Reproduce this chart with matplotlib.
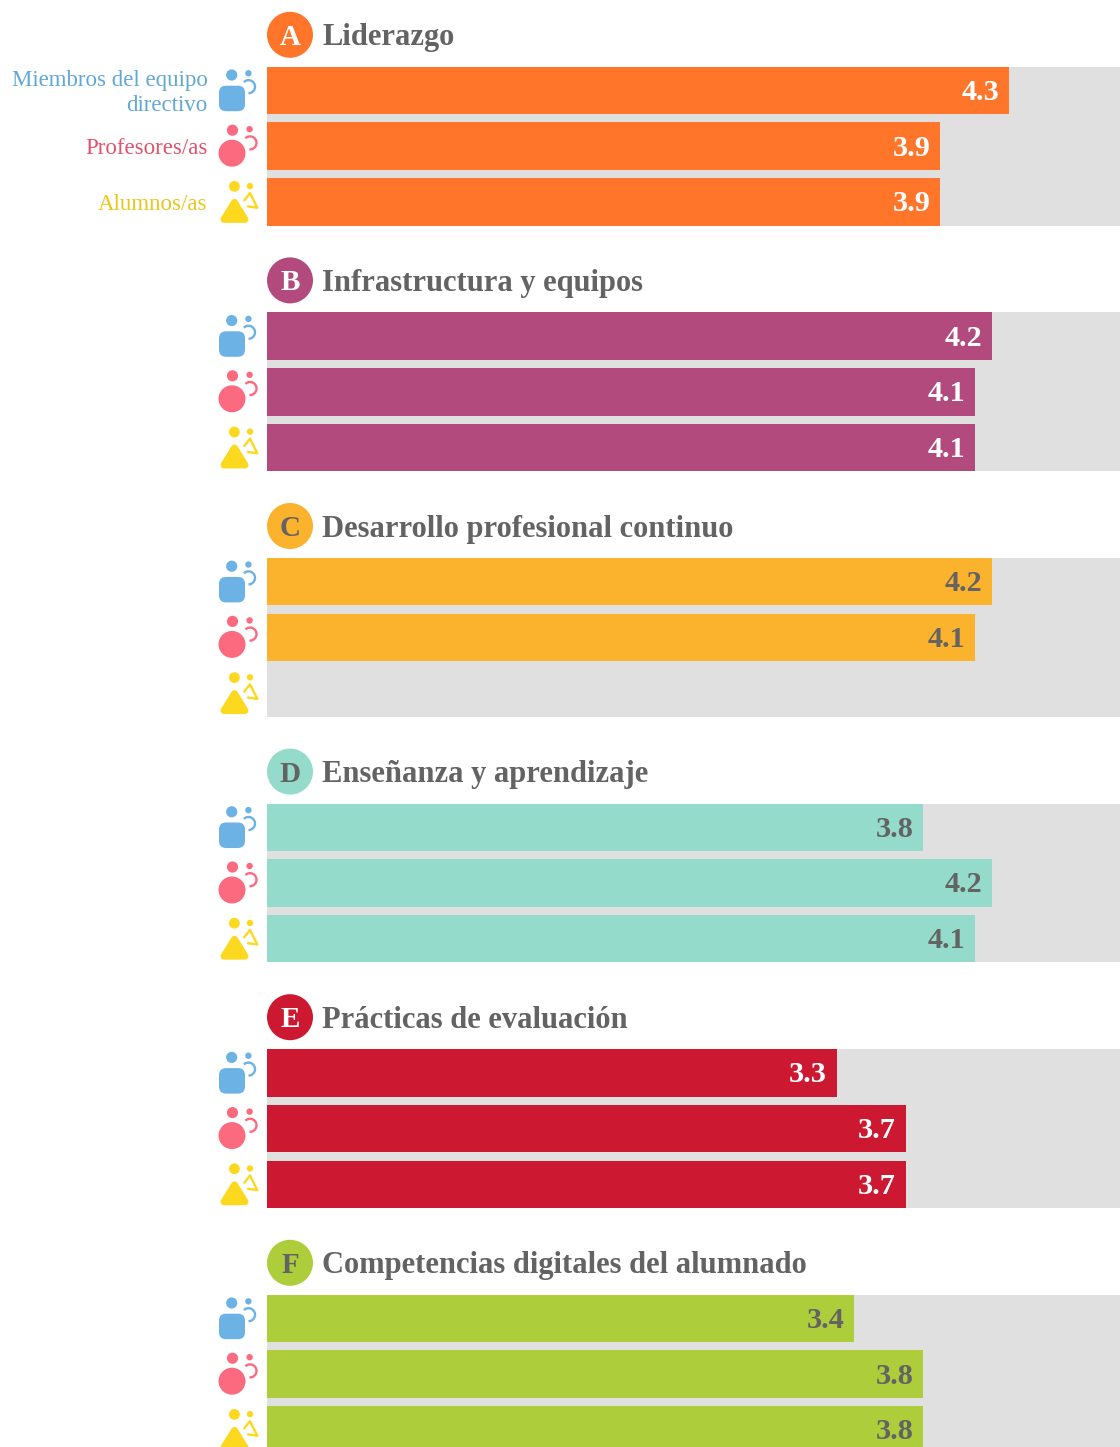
import numpy as np
import matplotlib
matplotlib.use("Agg")
import matplotlib.pyplot as plt
from matplotlib.patches import Circle, FancyBboxPatch, Polygon, Arc

plt.rcParams['font.family'] = ['Liberation Serif', 'DejaVu Serif']

letters = ['A', 'B', 'C', 'D', 'E', 'F']
titles = ['Liderazgo', 'Infrastructura y equipos', 'Desarrollo profesional continuo',
          'Enseñanza y aprendizaje', 'Prácticas de evaluación', 'Competencias digitales del alumnado']
managers = [4.3, 4.2, 4.2, 3.8, 3.3, 3.4]
teachers = [3.9, 4.1, 4.1, 4.2, 3.7, 3.8]
students = [3.9, 4.1, np.nan, 4.1, 3.7, 3.8]
colors = ['#FF752A', '#B24A7E', '#FBB32D', '#95DBCB', '#CC1831', '#AECD3A']
value_colors = ['white', 'white', '#636363', '#636363', 'white', '#636363']
respondents = ['Miembros del equipo\ndirectivo', 'Profesores/as', 'Alumnos/as']
respondent_colors = ['#62A8D5', '#E2526C', '#E8C81E']

W, H = 1120, 1447
X0 = 267
PX_PER_UNIT = 172.6
FIRST = 90.5
GROUP = 245.6
ROW = 55.7
BAR_H = 47.5
GREY = '#E0E0E0'
TEXT = '#636363'
ICON = ['#6CB2E4', '#FC6A80', '#FCD91E']

fig = plt.figure(figsize=(W / 100, H / 100), dpi=100, facecolor='white')
ax = fig.add_axes([X0 / W, 0, (W - X0) / W, 1])
ax.set_xlim(0, (W - X0) / PX_PER_UNIT)
ax.set_ylim(H, 0)
ax.axis('off')

ov = fig.add_axes([0, 0, 1, 1], zorder=5)
ov.set_xlim(0, W)
ov.set_ylim(H, 0)
ov.axis('off')
ov.patch.set_alpha(0)


def icon(kind, cy):
    c = ICON[kind]
    if kind == 0:
        ov.add_patch(Circle((231.7, cy - 15.5), 5.6, color=c, lw=0))
        ov.add_patch(FancyBboxPatch((226, cy + 2.2), 12, 11.5, boxstyle='round,pad=7,rounding_size=7',
                                    fc=c, ec='none'))
        ov.add_patch(Circle((248.4, cy - 17.2), 3.2, color=c, lw=0))
        ov.add_patch(Arc((248.5, cy - 3.8), 13, 13, theta1=-135, theta2=90, ec=c, lw=1.7))
    elif kind == 1:
        ov.add_patch(Circle((232.5, cy - 16), 5.6, color=c, lw=0))
        ov.add_patch(Circle((232, cy + 7), 13.5, color=c, lw=0))
        ov.add_patch(Circle((249.6, cy - 17), 3.2, color=c, lw=0))
        ov.add_patch(Arc((250, cy - 3.3), 13, 13, theta1=-135, theta2=95, ec=c, lw=1.7))
    else:
        ov.add_patch(Circle((234.4, cy - 15.5), 5.4, color=c, lw=0))
        ov.add_patch(Polygon([(234.5, cy + 0.5), (224, cy + 17.5), (245, cy + 17.5)], closed=True,
                             fc=c, ec=c, lw=5, joinstyle='round'))
        ov.add_patch(Circle((250, cy - 15.8), 3.2, color=c, lw=0))
        ov.plot([244.3, 250, 257.3, 248], [cy - 1.5, cy - 8.8, cy + 5.8, cy + 4.5], color=c, lw=1.7,
                solid_joinstyle='round', solid_capstyle='round')


for g, (letter, title, col, vcol) in enumerate(zip(letters, titles, colors, value_colors)):
    top = FIRST + g * GROUP
    vals = [managers[g], teachers[g], students[g]]
    centers = [top + r * ROW for r in range(3)]
    ax.barh(top + ROW, 5.2, height=2 * ROW + BAR_H, color=GREY, lw=0, zorder=1)
    ax.barh(centers, vals, height=BAR_H, color=col, lw=0, zorder=2)
    for v, y in zip(vals, centers):
        if not np.isnan(v):
            ax.annotate(f'{v:.1f}', (v, y - 1), xytext=(-7.0, 0), textcoords='offset points',
                        ha='right', va='center_baseline', fontsize=21.8, fontweight='bold',
                        color=vcol, zorder=3)
    hy = top - ROW
    ov.add_patch(Circle((290, hy), 23, color=col, lw=0))
    ov.text(290, hy - 0.5, letter, ha='center', va='center_baseline', fontsize=21,
            fontweight='bold', color=vcol)
    ov.text(322.5, hy - 0.5, title, ha='left', va='center_baseline', fontsize=22,
            fontweight='bold', color=TEXT)
    for r, y in enumerate(centers):
        icon(r, y)
    if g == 0:
        for label, lc, y in zip(respondents, respondent_colors, centers):
            ov.text(207.5, y + 2.5, label, ha='right', va='center', fontsize=16.5, color=lc, linespacing=1.3)

fig.savefig('out.png', dpi=100)
